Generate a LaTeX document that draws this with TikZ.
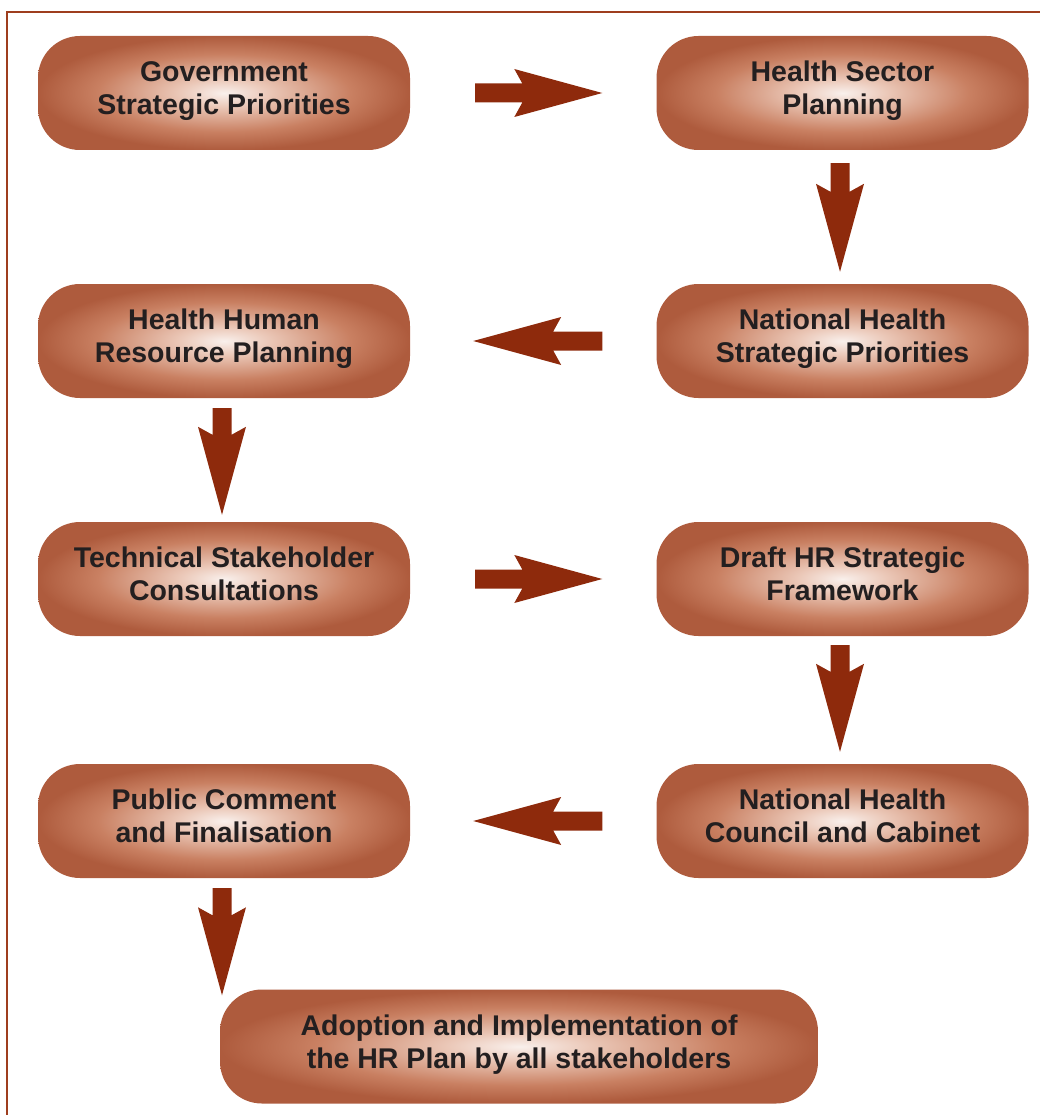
\documentclass[tikz,border=0pt]{standalone}
\usepackage{fontspec}
\setmainfont{Liberation Sans}
\usetikzlibrary{calc}
\definecolor{arrowc}{HTML}{8E2A0C}
\definecolor{framec}{HTML}{9E3E1E}
\definecolor{textc}{HTML}{231F20}
\definecolor{sh0}{HTML}{F9F0EC}
\definecolor{sh1}{HTML}{EBC8B8}
\definecolor{sh2}{HTML}{C98062}
\definecolor{sh3}{HTML}{AE5B3D}
\pgfdeclareradialshading{boxshade}{\pgfpoint{0bp}{0bp}}{color(0bp)=(sh0); color(6bp)=(sh1); color(17bp)=(sh2); color(25bp)=(sh3); color(50bp)=(sh3)}
\newcommand\blockarrow[2]{%
  \coordinate (ba-h) at ($(#2)!88pt!(#1)$);
  \coordinate (ba-n) at ($(#2)!80pt!(#1)$);
  \fill[arrowc] ($(#1)!9.5pt!90:(#2)$) -- ($(ba-n)!9.5pt!90:(#2)$) -- ($(ba-h)!24pt!90:(#2)$) -- (#2)
    -- ($(ba-h)!24pt!-90:(#2)$) -- ($(ba-n)!9.5pt!-90:(#2)$) -- ($(#1)!9.5pt!-90:(#2)$) -- cycle;
}
\tikzset{
  stepbox/.style={shading=boxshade, rounded corners=42pt, minimum width=372pt, minimum height=114pt,
    inner sep=0pt, align=center, text=textc, text depth=10pt, font=\fontsize{28.5}{33}\selectfont\bfseries},
  widebox/.style={stepbox, minimum width=598pt},
}
\begin{document}
\begin{tikzpicture}[x=1pt,y=-1pt]
\useasboundingbox (0,0) rectangle (1040,1115);
\coordinate (fa) at (7,1116);
\coordinate (fb) at (7,12);
\coordinate (fc) at (1041,12);
\draw[framec, line width=2.6pt] (fa) -- (fb) -- (fc);

\node[stepbox] (n1) at (224,93) {Government\\Strategic Priorities};
\node[stepbox] (n2) at (842.5,93) {Health Sector\\Planning};
\node[stepbox] (n3) at (224,341) {Health Human\\Resource Planning};
\node[stepbox] (n4) at (842.5,341) {National Health\\Strategic Priorities};
\node[stepbox] (n5) at (224,579) {Technical Stakeholder\\Consultations};
\node[stepbox] (n6) at (842.5,579) {Draft HR Strategic\\Framework};
\node[stepbox] (n7) at (224,821) {Public Comment\\and Finalisation};
\node[stepbox] (n8) at (842.5,821) {National Health\\Council and Cabinet};
\node[widebox] (n9) at (519,1046.5) {Adoption and Implementation of\\the HR Plan by all stakeholders};

\coordinate (a1s) at ($(n1.east)!65pt!(n2.west)$);
\coordinate (a1e) at ($(n2.west)!54pt!(n1.east)$);
\blockarrow{a1s}{a1e}
\coordinate (a2s) at ($(n2.south)+(-2.5,13)$);
\coordinate (a2e) at ($(n4.north)+(-2.5,-12)$);
\blockarrow{a2s}{a2e}
\coordinate (a3s) at ($(n4.west)!54pt!(n3.east)$);
\coordinate (a3e) at ($(n3.east)!63pt!(n4.west)$);
\blockarrow{a3s}{a3e}
\coordinate (a4s) at ($(n3.south)+(-2,10)$);
\coordinate (a4e) at ($(n5.north)+(-2,-7)$);
\blockarrow{a4s}{a4e}
\coordinate (a5s) at ($(n5.east)!65pt!(n6.west)$);
\coordinate (a5e) at ($(n6.west)!54pt!(n5.east)$);
\blockarrow{a5s}{a5e}
\coordinate (a6s) at ($(n6.south)+(-2.5,9)$);
\coordinate (a6e) at ($(n8.north)+(-2.5,-12)$);
\blockarrow{a6s}{a6e}
\coordinate (a7s) at ($(n8.west)!54pt!(n7.east)$);
\coordinate (a7e) at ($(n7.east)!63pt!(n8.west)$);
\blockarrow{a7s}{a7e}
\coordinate (a8s) at ($(n7.south)+(-2,10)$);
\coordinate (a8e) at ($(n7.south |- n9.north)+(-2,6)$);
\blockarrow{a8s}{a8e}
\end{tikzpicture}
\end{document}
